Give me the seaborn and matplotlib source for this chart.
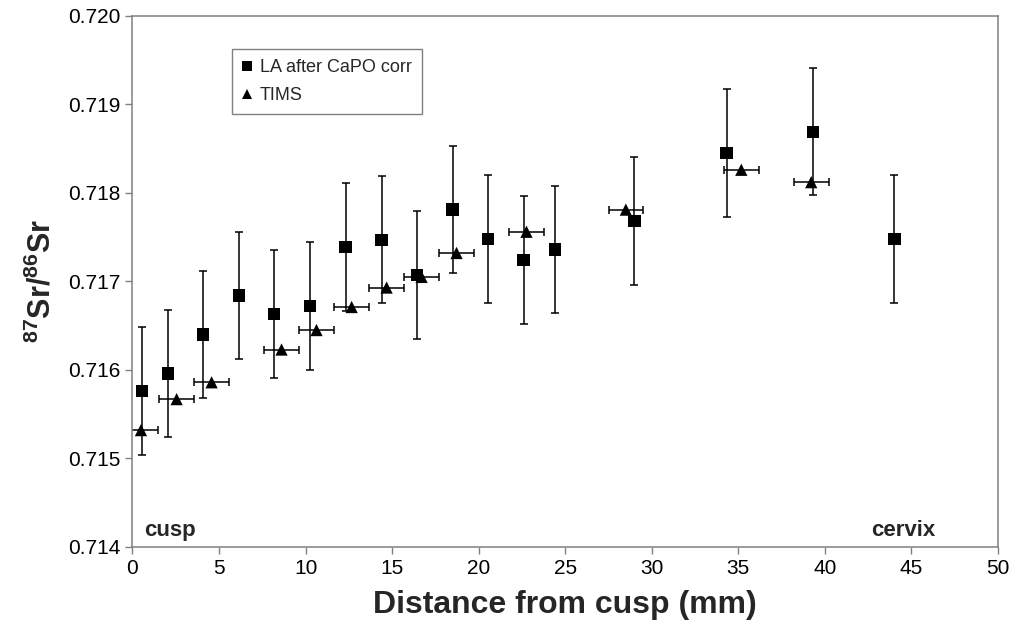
import numpy as np
import pandas as pd
import seaborn as sns
import matplotlib.pyplot as plt

# LA after CaPO correction (squares, vertical error bars)
la_x = [0.53, 2.07, 4.09, 6.15, 8.19, 10.25, 12.31, 14.39, 16.43, 18.49,
        20.54, 22.59, 24.41, 29.0, 34.32, 39.3, 44.02]
la_y = [0.71576, 0.71596, 0.71640, 0.71684, 0.71663, 0.71672, 0.71739, 0.71747,
        0.71707, 0.71781, 0.71748, 0.71724, 0.71736, 0.71768, 0.71845, 0.71869,
        0.71748]
la_err = [0.00072] * len(la_x)

# TIMS (triangles, horizontal error bars)
tims_x = [0.49, 2.55, 4.57, 8.61, 10.63, 12.66, 14.68, 16.70, 18.72, 22.76,
          28.5, 35.17, 39.21]
tims_y = [0.71532, 0.71567, 0.71586, 0.71623, 0.71645, 0.71671, 0.71693, 0.71705,
          0.71732, 0.71756, 0.71781, 0.71826, 0.71812]
tims_err = [1.0] * len(tims_x)

sns.set_style("ticks")
plt.rcParams['font.family'] = ['Liberation Sans', 'DejaVu Sans']
plt.rcParams['mathtext.fontset'] = 'custom'
plt.rcParams['mathtext.bf'] = 'Liberation Sans:bold'
plt.rcParams['mathtext.rm'] = 'Liberation Sans'

df = pd.concat([
    pd.DataFrame({'x': la_x, 'y': la_y, 'series': 'LA after CaPO corr'}),
    pd.DataFrame({'x': tims_x, 'y': tims_y, 'series': 'TIMS'}),
])

fig, ax = plt.subplots(figsize=(10.16, 6.35), dpi=100)
fig.subplots_adjust(left=0.1304, right=0.9823, top=0.9753, bottom=0.1386)

ax.errorbar(la_x, la_y, yerr=la_err, fmt='none', ecolor='black',
            elinewidth=1.1, capsize=3, capthick=1.1, zorder=2)
ax.errorbar(tims_x, tims_y, xerr=tims_err, fmt='none', ecolor='black',
            elinewidth=1.1, capsize=3, capthick=1.1, zorder=2)
sns.scatterplot(data=df, x='x', y='y', style='series',
                markers={'LA after CaPO corr': 's', 'TIMS': '^'},
                color='black', edgecolor='black', linewidth=0, s=78,
                ax=ax, zorder=3)

ax.set_xlim(0, 50)
ax.set_ylim(0.714, 0.720)
ax.set_xticks(range(0, 51, 5))
yt = np.arange(0.714, 0.7205, 0.001)
ax.set_yticks(yt)
ax.set_yticklabels([f"{v:.3f}" for v in yt])
ax.tick_params(direction='out', length=5, width=1, color='gray',
               labelsize=15, labelcolor='black')
for sp in ax.spines.values():
    sp.set_color('gray')
    sp.set_linewidth(1.1)

ax.set_xlabel('Distance from cusp (mm)', fontsize=23, fontweight='bold', labelpad=9)
ax.set_ylabel(r'$\mathbf{^{87}Sr/^{86}Sr}$', fontsize=22, labelpad=8)

ax.text(0.7, 0.71412, 'cusp', fontsize=16, fontweight='bold')
ax.text(46.4, 0.71412, 'cervix', fontsize=16, fontweight='bold', ha='right')

handles, labels = ax.get_legend_handles_labels()
leg = ax.legend(handles, labels, loc='upper left', bbox_to_anchor=(0.115, 0.937),
                borderaxespad=0, frameon=True, fancybox=False, edgecolor='gray',
                fontsize=13, handlelength=0.6, handletextpad=0.4, borderpad=0.55,
                labelspacing=0.6, markerscale=0.8, framealpha=1)
leg.get_frame().set_linewidth(1.0)

fig.savefig('out.png', dpi=100)
